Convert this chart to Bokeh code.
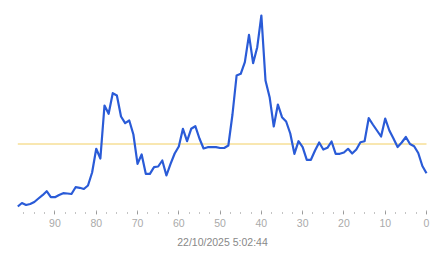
from bokeh.plotting import figure
from bokeh.models import Range1d, SingleIntervalTicker
from bokeh.embed import file_html
from bokeh.resources import INLINE

# x positions (counting down to 0) and values
x_vals = list(range(99, -1, -1))
y_vals = [4, 7.5, 5.5, 6.5, 8.5, 12, 15.3, 19.3, 13.3, 13.3,
          15.5, 17.3, 17, 16.5, 23.3, 22.7, 21.5, 25, 38, 61.7,
          52, 105, 96.7, 117.3, 115, 94, 87.3, 90, 76, 46.7,
          56, 36.7, 36.7, 43.3, 44, 50, 35, 46.7, 57, 64,
          81.7, 69.3, 81.7, 84.3, 72, 62, 63.3, 63.3, 63.3, 62.5,
          62.5, 65, 96, 135, 136.7, 148.3, 175.7, 147.3, 163.3, 195,
          130, 113.3, 84, 106, 93.3, 89, 77, 56.7, 69.3, 63.3,
          50.7, 50.7, 60, 68, 61, 62.7, 69, 56.7, 56.7, 58,
          61.7, 57, 61, 68.3, 69.3, 92.3, 86, 80, 74, 92,
          80, 72, 63.5, 68, 73.5, 66.5, 64.3, 57.5, 44.5, 37.3]
threshold = 66.5
tick_labels_interval = 10
date_label = "22/10/2025 5:02:44"

p = figure(width=443, height=258, output_backend="svg", toolbar_location=None,
           x_range=Range1d(99.8, -0.968), y_range=Range1d(0, 210),
           min_border_left=14, min_border_right=13, min_border_top=0,
           min_border_bottom=48)
p.outline_line_color = None
p.grid.visible = False
p.yaxis.visible = False
p.background_fill_color = "white"
p.border_fill_color = "white"

p.line([x_vals[0], x_vals[-1]], [threshold, threshold], line_color="#f2cf62", line_width=1)
p.line(x_vals, y_vals, line_color="#2a5bd7", line_width=2.2, line_join="round")

ax = p.xaxis[0]
ax.ticker = SingleIntervalTicker(interval=tick_labels_interval, num_minor_ticks=4)
ax.axis_line_color = None
ax.major_tick_line_color = "#aaaaaa"
ax.major_tick_in = 0
ax.major_tick_out = 4
ax.minor_tick_line_color = "#888888"
ax.minor_tick_in = -2
ax.minor_tick_out = 3
ax.major_label_text_font = "Liberation Sans"
ax.major_label_text_font_size = "10.5px"
ax.major_label_text_color = "#aaaaaa"
ax.major_label_standoff = 4
ax.axis_label = date_label
ax.axis_label_text_font = "Liberation Sans"
ax.axis_label_text_font_size = "10.5px"
ax.axis_label_text_font_style = "normal"
ax.axis_label_text_color = "#888888"
ax.axis_label_standoff = 6

open("out.html", "w").write(file_html(p, INLINE))
